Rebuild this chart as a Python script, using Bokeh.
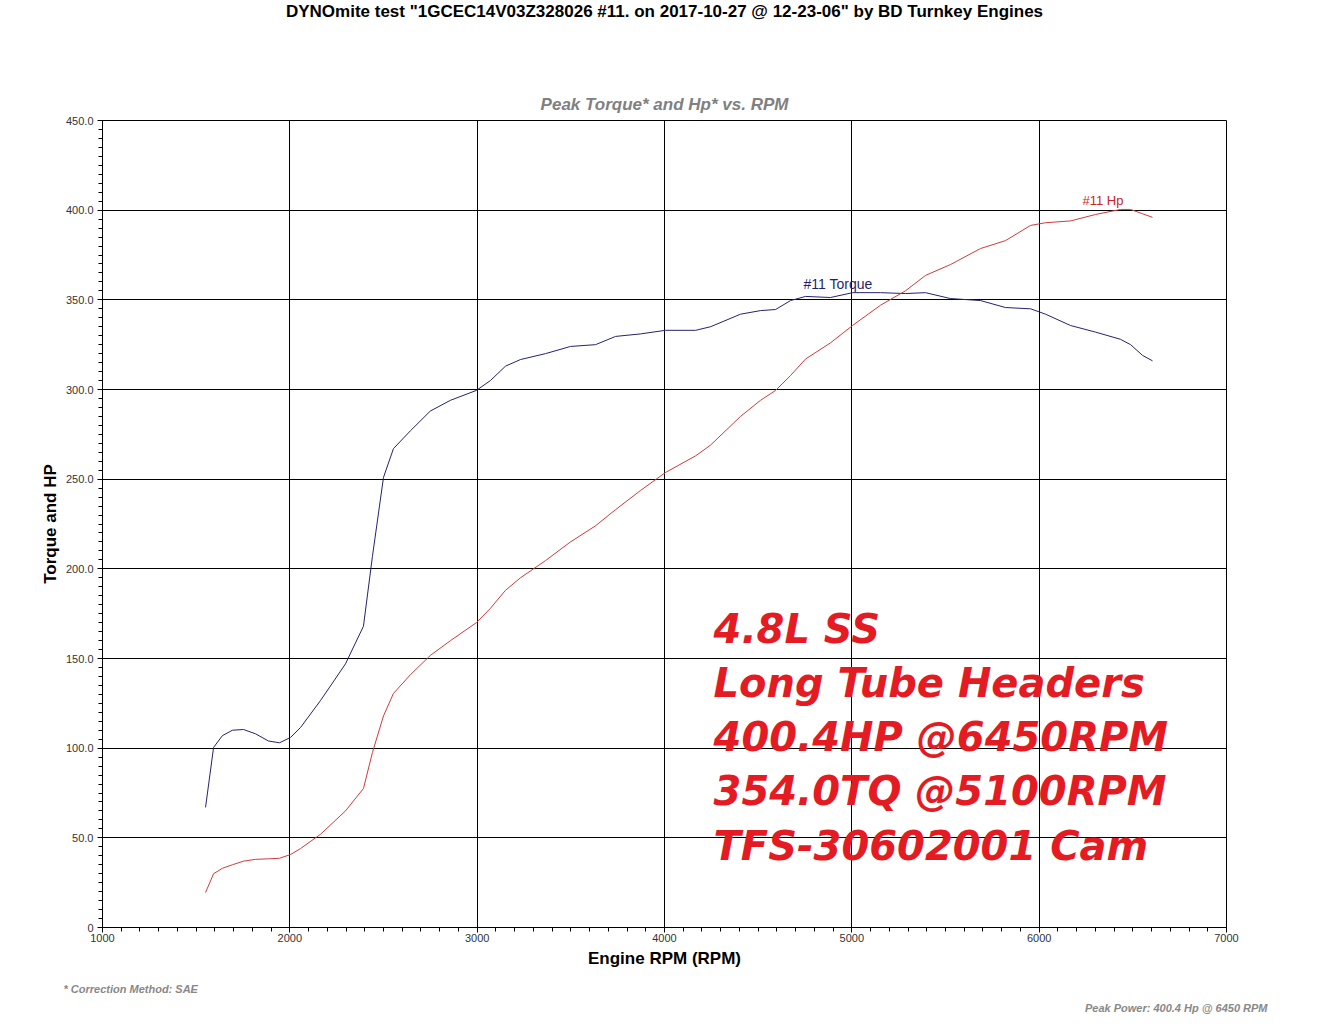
from bokeh.plotting import figure
from bokeh.models import Label, FixedTicker, Title
from bokeh.embed import file_html
from bokeh.resources import INLINE

# ---- data ----
torque_rpm = [1550, 1593, 1640, 1694, 1753, 1817, 1886, 1945, 2004, 2057, 2164, 2297, 2393,
              2441, 2500, 2553, 2644, 2750, 2858, 2996, 3071, 3151, 3231, 3365, 3498, 3632,
              3739, 3872, 4005, 4166, 4246, 4406, 4513, 4593, 4673, 4753, 4886, 5004, 5153,
              5286, 5393, 5527, 5687, 5820, 5954, 6034, 6167, 6301, 6434, 6488, 6552, 6605]
torque_val = [67, 100.4, 107, 110, 110.4, 108, 104, 103, 106, 111.5, 126.6, 147, 168,
              207, 251, 267, 277, 288, 294, 299.5, 305, 313, 316.7, 320, 324, 325,
              329.6, 331, 333, 333, 335, 342, 344, 344.6, 349.6, 351.9, 351.3, 354, 354,
              353.5, 354, 350.7, 349.6, 345.7, 345, 342, 335.7, 332, 328, 325, 319, 316]
hp_rpm = torque_rpm
hp_val = [19.5, 30, 33, 35, 37, 38, 38.3, 38.6, 40.7, 44, 52, 65, 77.5,
          97.6, 118, 130.5, 141, 151.7, 160, 170, 178, 188, 195, 204.6, 215, 224,
          233, 243.7, 253.7, 263, 269, 285, 294, 299.5, 307.8, 317, 326, 335.7, 347,
          355, 363.6, 369.7, 378.6, 383, 391.5, 393, 394, 397.6, 400.4, 400.4, 398, 396]

x_ticks = [1000, 2000, 3000, 4000, 5000, 6000, 7000]
y_ticks = [0, 50, 100, 150, 200, 250, 300, 350, 400, 450]
y_tick_labels = ["0", "50.0", "100.0", "150.0", "200.0", "250.0", "300.0", "350.0", "400.0", "450.0"]

title_text = 'DYNOmite test "1GCEC14V03Z328026 #11. on 2017-10-27 @ 12-23-06" by BD Turnkey Engines'
subtitle_text = "Peak Torque* and Hp* vs. RPM"
footnote_left = "* Correction Method: SAE"
footnote_right = "Peak Power: 400.4 Hp @ 6450 RPM"
overlay_lines = ["4.8L SS", "Long Tube Headers", "400.4HP @6450RPM", "354.0TQ @5100RPM", "TFS-30602001 Cam"]
overlay_baselines = [166.7, 136.6, 106.5, 75.9, 45.3]

FONT = "Liberation Sans"

p = figure(frame_width=1124, frame_height=807, x_range=(1000, 7000), y_range=(0, 450),
           output_backend="svg", toolbar_location=None,
           min_border_left=102, min_border_right=95, min_border_top=120, min_border_bottom=95,
           background_fill_color="white", border_fill_color="white")
p.outline_line_color = "black"
p.outline_line_width = 1
p.outline_line_alpha = 1

# main title (outermost)
p.title.text = title_text
p.title.align = "center"
p.title.vertical_align = "top"
p.title.text_font = FONT
p.title.text_font_size = "17px"
p.title.text_font_style = "bold"
p.title.text_color = "black"
p.title.standoff = -6

# subtitle (closest to the frame), then a spacer
p.add_layout(Title(text=subtitle_text, align="center", text_font=FONT, text_font_size="17px",
                   text_font_style="bold italic", text_color="#808080", standoff=13), "above")
p.add_layout(Title(text=" ", align="center", text_font=FONT, text_font_size="15px",
                   text_color="white", standoff=48), "above")

x_minor = [1000 + 100 * i for i in range(61)]
y_minor = [5 * i for i in range(91)]
p.xaxis.ticker = FixedTicker(ticks=x_ticks, minor_ticks=x_minor)
p.yaxis.ticker = FixedTicker(ticks=y_ticks, minor_ticks=y_minor)
p.xgrid.ticker = FixedTicker(ticks=x_ticks)
p.ygrid.ticker = FixedTicker(ticks=y_ticks)
p.yaxis.major_label_overrides = {t: l for t, l in zip(y_ticks, y_tick_labels)}
p.xaxis.major_label_overrides = {t: str(t) for t in x_ticks}

for g in (p.xgrid, p.ygrid):
    g.grid_line_color = "black"
    g.grid_line_width = 1
    g.grid_line_alpha = 1

for ax in (p.xaxis, p.yaxis):
    ax.axis_line_color = "black"
    ax.major_tick_line_color = "black"
    ax.minor_tick_line_color = "black"
    ax.major_tick_out = 5
    ax.major_tick_in = 0
    ax.minor_tick_out = 4
    ax.minor_tick_in = 0
    ax.major_label_text_font = FONT
    ax.major_label_text_font_size = "11px"
    ax.major_label_text_color = "#333333"
    ax.axis_label_text_font = FONT
    ax.axis_label_text_font_size = "17px"
    ax.axis_label_text_font_style = "bold"
    ax.axis_label_text_color = "black"

p.xaxis.major_label_standoff = 1
p.yaxis.major_label_standoff = 4
p.xaxis.axis_label = "Engine RPM (RPM)"
p.xaxis.axis_label_standoff = 4
p.yaxis.axis_label = "Torque and HP"
p.yaxis.axis_label_standoff = 3

# footnotes below the axis
p.add_layout(Title(text=footnote_left, align="left", offset=-39, vertical_align="top", text_font=FONT,
                   text_font_size="11px", text_font_style="bold italic", text_color="#888888",
                   standoff=24), "below")
p.add_layout(Title(text=footnote_right, align="right", offset=-41, vertical_align="top", text_font=FONT,
                   text_font_size="11px", text_font_style="bold italic", text_color="#888888",
                   standoff=-14), "below")

p.line(torque_rpm, torque_val, line_color="#23236e", line_width=1)
p.line(hp_rpm, hp_val, line_color="#d03a3a", line_width=1)

p.add_layout(Label(x=4742, y=359, text="#11 Torque", text_font=FONT, text_font_size="14px",
                   text_color="#1f1f70", text_baseline="alphabetic"))
p.add_layout(Label(x=6231, y=405.3, text="#11 Hp", text_font=FONT, text_font_size="13px",
                   text_color="#c82424", text_baseline="alphabetic"))

for line, yb in zip(overlay_lines, overlay_baselines):
    p.add_layout(Label(x=4262, y=yb, text=line, text_font="DejaVu Sans", text_font_size="40px",
                       text_font_style="bold italic", text_color="#e41b23", text_baseline="alphabetic"))

open("out.html", "w").write(file_html(p, INLINE))
